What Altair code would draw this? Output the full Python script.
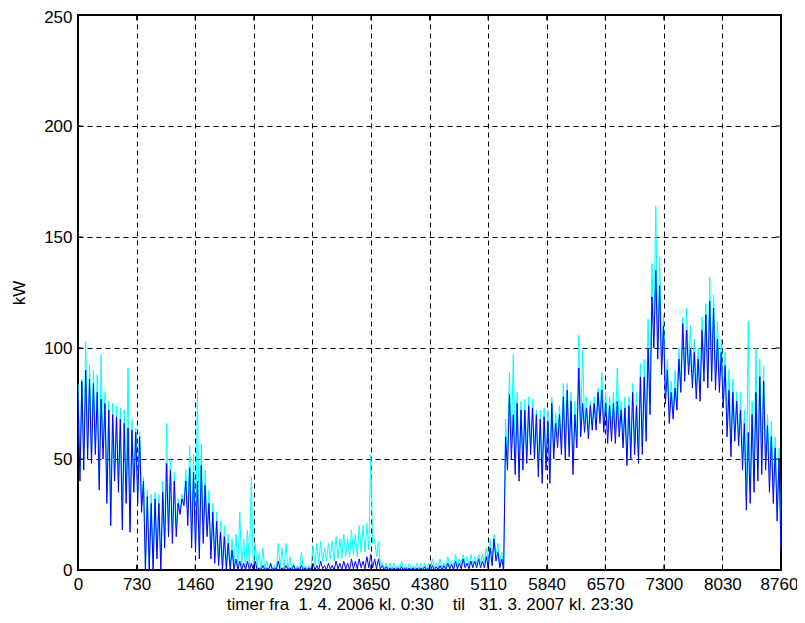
import altair as alt
import pandas as pd

# each slot covers 48 h: the upper reading at hour 48*i, the lower one 24 h later
slot_hours = list(range(0, 8737, 48))

# blue series (kW) – upper / lower readings per slot
blue_hi = [
    80, 85, 90, 86, 84, 80, 77, 75, 72, 70, 69, 68, 66, 64, 63, 62,
    60, 40, 33, 30, 32, 30, 35, 48, 45, 40, 30, 32, 40, 46, 44,
    40, 47, 38, 30, 26, 22, 17, 15, 12, 9, 5, 4, 3, 4, 3,
    4, 1, 2, 1, 3, 1, 4, 1, 2, 1, 2, 1, 2, 1, 1,
    3, 2, 4, 2, 3, 2, 4, 3, 4, 3, 5, 4, 5, 4, 6,
    7, 5, 5, 2, 1.5, 1, 1, 1, 1.5, 1, 1, 1, 1, 1, 1.5,
    1, 2, 1.5, 2, 2, 3, 2.5, 4, 3, 5, 3, 4, 4, 5, 4,
    6, 10, 14, 8, 5, 60, 79, 70, 75, 72, 72, 74, 73, 70, 68,
    69, 67, 75, 66, 70, 78, 81, 76, 70, 91, 75, 73, 74, 75, 80,
    81, 75, 74, 75, 76, 72, 73, 74, 80, 74, 87, 87, 100, 123, 135,
    128, 110, 90, 80, 82, 95, 111, 108, 100, 98, 95, 108, 115, 121, 118,
    104, 98, 92, 81, 80, 76, 72, 66, 62, 70, 80, 87, 85, 65, 60,
    55, 50,
]
blue_lo = [
    40, 45, 50, 48, 52, 36, 50, 30, 20, 40, 35, 18, 30, 17, 35, 30,
    26, 0, 0, 0, 5, 0, 10, 15, 12, 15, 25, 29, 20, 10, 8,
    5, 12, 15, 5, 3, 2, 0, 0, 0, 0, 0, 0, 0, 0, 0,
    0, 0, 0, 0, 0, 0, 0, 0, 0, 0, 0, 0, 0, 0, 0,
    0, 0, 0.5, 0, 0.5, 0, 0.5, 0, 0.5, 0, 0.5, 0.5, 1, 0.5, 1,
    1, 0.5, 0.5, 0, 0, 0, 0, 0, 0, 0, 0, 0, 0, 0, 0,
    0, 0, 0, 0, 0, 0.5, 0, 0.5, 0.5, 1, 0.5, 1, 1, 1, 1,
    1, 2, 4, 1, 0, 45, 50, 43, 40, 45, 48, 52, 50, 42, 39,
    45, 39, 50, 55, 52, 50, 51, 43, 55, 60, 62, 59, 63, 63, 66,
    62, 57, 58, 57, 60, 55, 47, 50, 52, 48, 52, 58, 70, 100, 95,
    88, 75, 66, 68, 72, 80, 85, 88, 82, 77, 76, 85, 82, 85, 81,
    80, 73, 60, 51, 58, 56, 45, 27, 30, 35, 40, 43, 45, 35, 30,
    22, 8,
]

# cyan series (kW) – upper / lower readings per slot
cyan_hi = [
    84, 86, 103, 92, 90, 88, 97, 80, 76, 75, 74, 73, 72, 91, 68, 64,
    62, 42, 36, 34, 35, 34, 40, 66, 50, 44, 32, 34, 45, 56, 52,
    81, 57, 45, 36, 30, 26, 22, 20, 16, 14, 16, 26, 14, 18, 42,
    12, 8, 10, 4, 3, 2, 12, 10, 12, 6, 3, 2, 8, 2, 2,
    11, 12, 13, 10, 12, 13, 15, 14, 16, 14, 18, 16, 20, 20, 21,
    52, 14, 13, 3, 3, 3, 3, 2, 4, 2, 3, 2, 3, 3, 3,
    3, 5, 3, 5, 3, 6, 4, 7, 5, 7, 6, 7, 6, 7, 7,
    10, 14, 16, 12, 8, 68, 89, 97, 80, 76, 77, 78, 77, 72, 72,
    73, 72, 78, 71, 74, 84, 84, 80, 76, 106, 99, 78, 76, 78, 82,
    89, 80, 78, 80, 91, 76, 78, 78, 84, 80, 93, 95, 113, 138, 164,
    141, 115, 95, 85, 90, 100, 114, 118, 110, 104, 100, 114, 120, 132, 124,
    112, 104, 98, 90, 86, 80, 80, 72, 112, 76, 100, 95, 92, 70, 67,
    60, 55,
]
cyan_lo = [
    45, 50, 55, 52, 55, 40, 55, 35, 25, 45, 40, 22, 35, 20, 40, 35,
    30, 2, 2, 2, 8, 2, 14, 20, 16, 20, 27, 30, 24, 14, 12,
    8, 16, 18, 8, 6, 4, 2, 2, 2, 1, 1, 1, 1, 1, 1,
    1, 0, 0, 0, 0, 0, 1, 0, 0, 0, 0, 0, 0, 0, 0,
    2, 3, 4, 4, 5, 4, 5, 5, 6, 6, 7, 6, 8, 8, 9,
    12, 6, 2, 1, 0.5, 0.5, 0.5, 0.5, 0.5, 0.5, 0.5, 0.5, 0.5, 0.5, 0.5,
    0.5, 1, 0.5, 1, 1, 1.5, 1, 2, 2, 2.5, 2, 2.5, 2.5, 3, 3,
    3, 5, 6, 3, 1, 50, 55, 48, 45, 50, 52, 56, 54, 46, 44,
    50, 44, 55, 60, 56, 55, 56, 48, 60, 65, 66, 63, 66, 67, 70,
    66, 62, 62, 62, 64, 60, 52, 55, 56, 52, 56, 62, 75, 105, 100,
    92, 80, 70, 72, 76, 84, 90, 92, 86, 82, 80, 90, 86, 90, 86,
    85, 78, 65, 56, 62, 60, 50, 32, 35, 40, 45, 48, 50, 40, 35,
    26, 10,
]

x_ticks = [0, 730, 1460, 2190, 2920, 3650, 4380, 5110, 5840, 6570, 7300, 8030, 8760]
y_ticks = [0, 50, 100, 150, 200, 250]

# interleave upper/lower readings into one hourly-ordered series
n = min(len(slot_hours), len(blue_hi), len(blue_lo), len(cyan_hi), len(cyan_lo))
h_col, b_col, c_col = [], [], []
for i in range(n):
    h_col += [slot_hours[i], slot_hours[i] + 24]
    b_col += [blue_hi[i], blue_lo[i]]
    c_col += [cyan_hi[i], cyan_lo[i]]
df = pd.DataFrame({"h": h_col, "blue": b_col, "cyan": c_col})
xt = pd.DataFrame({"t": x_ticks})
yt = pd.DataFrame({"t": y_ticks})

NB = "\u00a0"
x_title = f"timer fra{NB}{NB}1. 4. 2006 kl. 0:30{NB}{NB}{NB}{NB}til{NB}{NB}{NB}31. 3. 2007 kl. 23:30"

xscale = alt.Scale(domain=[0, 8760], nice=False, zero=False)
yscale = alt.Scale(domain=[0, 250], nice=False)

xaxis = alt.Axis(values=x_ticks, title=x_title, labelPadding=6, titlePadding=4,
                 labelFlush=False, labelOverlap=False, format="d",
                 labelOffset=alt.condition("datum.value == 8760", alt.value(-2), alt.value(0)))
yaxis = alt.Axis(values=y_ticks, title="kW", labelPadding=6, titleX=-50, titleY=277.5,
                 titleAlign="center", titleBaseline="bottom", format="d",
                 labelFlush=False, labelOverlap=False,
                 labelOffset=alt.condition("datum.value == 250", alt.value(2), alt.value(0)))

base = alt.Chart(df)

cyan_line = base.mark_line(color="#00FFFF", strokeWidth=1, clip=True).encode(
    x=alt.X("h:Q", scale=xscale, axis=xaxis),
    y=alt.Y("cyan:Q", scale=yscale, axis=yaxis),
)
blue_line = base.mark_line(color="#0000FF", strokeWidth=1, clip=True).encode(
    x=alt.X("h:Q", scale=xscale),
    y=alt.Y("blue:Q", scale=yscale),
)

tick_b = alt.Chart(xt).mark_rule(color="black", strokeWidth=1).encode(
    x=alt.X("t:Q", scale=xscale), y=alt.datum(0), y2=alt.datum(2.4))
tick_t = alt.Chart(xt).mark_rule(color="black", strokeWidth=1).encode(
    x=alt.X("t:Q", scale=xscale), y=alt.datum(250), y2=alt.datum(247.6))
tick_l = alt.Chart(yt).mark_rule(color="black", strokeWidth=1).encode(
    y=alt.Y("t:Q", scale=yscale), x=alt.datum(0), x2=alt.datum(65))
tick_r = alt.Chart(yt).mark_rule(color="black", strokeWidth=1).encode(
    y=alt.Y("t:Q", scale=yscale), x=alt.datum(8760), x2=alt.datum(8695))

chart = alt.layer(cyan_line, blue_line, tick_b, tick_t, tick_l, tick_r).properties(
    width=703, height=555,
    autosize=alt.AutoSizeParams(type="none"),
    padding={"left": 70, "top": 7, "right": 16, "bottom": 45},
    background="white",
).configure_view(
    stroke="black", strokeWidth=2
).configure_axis(
    labelFont="Liberation Sans", labelFontSize=17, labelColor="black",
    titleFont="Liberation Sans", titleFontSize=17, titleFontWeight="normal", titleColor="black",
    domain=False, ticks=False,
    grid=True, gridColor="black", gridDash=[5, 4], gridOpacity=1, gridWidth=1,
)

chart.save("out.html", embed_options={"renderer": "svg", "actions": False})
